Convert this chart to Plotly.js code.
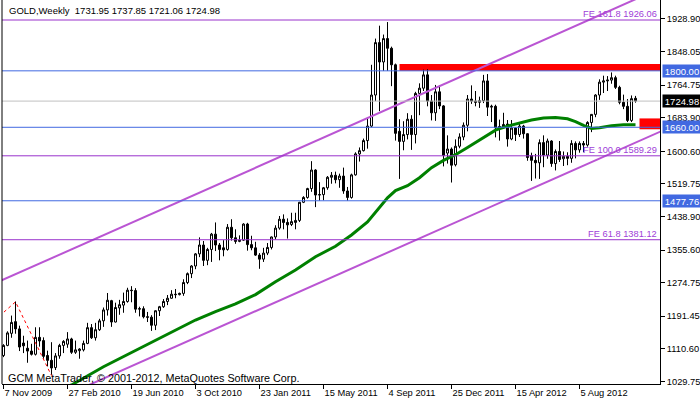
<!DOCTYPE html>
<html><head><meta charset="utf-8">
<script src="https://cdn.plot.ly/plotly-3.0.1.min.js"></script>
<style>html,body{margin:0;padding:0;background:#fff;}#chart{width:700px;height:402px;}</style>
</head><body><div id="chart"></div>
<script>
// Weekly GOLD candles, one per bar (bar 0 = week of 7 Nov 2009)
const opens = [1094,1119,1149,1178,1160,1125,1112,1105,1097,1139,
1131,1094,1082,1064,1093,1119,1122,1135,1102,1106,
1108,1124,1163,1138,1158,1180,1207,1230,1177,1212,
1219,1228,1256,1255,1209,1210,1190,1189,1169,1205,
1215,1228,1236,1246,1245,1248,1275,1297,1316,1346,
1368,1330,1357,1395,1368,1361,1357,1412,1386,1377,
1380,1420,1369,1361,1343,1333,1348,1362,1388,1410,
1432,1424,1419,1424,1429,1474,1486,1508,1554,1492,
1493,1510,1536,1541,1530,1539,1502,1486,1542,1594,
1602,1627,1663,1740,1870,1822,1880,1856,1815,1650,
1625,1642,1680,1642,1744,1757,1790,1725,1696,1748,
1713,1596,1606,1567,1613,1636,1665,1730,1725,1722,
1726,1775,1710,1712,1662,1659,1668,1631,1658,1642,
1663,1644,1590,1578,1572,1622,1591,1626,1570,1600,
1582,1588,1583,1620,1604,1620,1616,1672,1692,1740,
1772,1775,1777,1783,1759,1722,1712,1677,1731.95];
const highs = [1122,1154,1193,1228,1168,1143,1131,1123,1164,1164,
1139,1106,1127,1100,1123,1132,1152,1138,1131,1112,
1131,1175,1172,1175,1185,1213,1249,1232,1225,1232,
1250,1262,1266,1261,1215,1216,1202,1194,1206,1217,
1234,1244,1256,1259,1250,1283,1300,1318,1348,1387,
1378,1361,1398,1424,1373,1380,1420,1432,1407,1392,
1422,1423,1391,1376,1348,1361,1373,1389,1417,1440,
1444,1434,1448,1448,1475,1489,1510,1576,1556,1524,
1512,1539,1549,1550,1545,1560,1512,1545,1598,1610,
1632,1682,1815,1880,1912,1890,1921,1860,1818,1680,
1675,1695,1690,1748,1769,1803,1804,1740,1765,1764,
1715,1640,1610,1630,1645,1672,1740,1764,1750,1736,
1790,1792,1716,1716,1679,1696,1678,1678,1660,1668,
1666,1645,1597,1594,1630,1640,1632,1628,1605,1626,
1600,1598,1628,1625,1625,1626,1675,1693,1742,1779,
1788,1787,1796,1788,1763,1741,1730,1739,1737.85];
const lows = [1090,1117,1138,1148,1105,1100,1076,1094,1094,1116,
1086,1067,1046,1058,1086,1100,1113,1098,1098,1086,
1104,1122,1135,1131,1155,1165,1193,1165,1176,1195,
1200,1225,1226,1200,1191,1186,1177,1155,1157,1192,
1212,1219,1235,1236,1243,1242,1271,1286,1308,1338,
1316,1318,1326,1353,1330,1340,1354,1379,1371,1375,
1378,1354,1355,1341,1309,1326,1343,1357,1382,1406,
1407,1384,1415,1407,1425,1472,1483,1500,1462,1478,
1479,1505,1520,1521,1510,1495,1478,1483,1540,1575,
1600,1607,1660,1725,1700,1800,1800,1762,1627,1532,
1603,1630,1604,1620,1690,1750,1712,1677,1676,1705,
1563,1570,1523,1563,1608,1628,1650,1718,1712,1708,
1720,1688,1673,1635,1627,1657,1612,1628,1626,1636,
1632,1577,1527,1533,1532,1561,1582,1562,1553,1574,
1564,1566,1572,1583,1597,1598,1612,1648,1685,1728,
1745,1750,1768,1755,1717,1705,1673,1673,1721.06];
const closes = [1119,1150,1176,1160,1115,1118,1105,1097,1139,1130,
1092,1082,1063,1093,1119,1129,1135,1102,1108,1110,
1124,1163,1138,1158,1180,1207,1231,1177,1213,1220,
1228,1256,1255,1209,1210,1190,1189,1169,1205,1215,
1228,1236,1246,1245,1248,1275,1297,1316,1346,1368,
1330,1357,1395,1368,1357,1356,1412,1386,1377,1380,
1420,1369,1361,1343,1333,1348,1362,1388,1410,1432,
1424,1418,1426,1429,1474,1486,1508,1554,1492,1493,
1510,1536,1541,1530,1539,1502,1486,1542,1594,1602,
1627,1663,1740,1870,1822,1880,1856,1815,1645,1625,
1642,1680,1642,1744,1757,1790,1725,1696,1748,1713,
1590,1606,1566,1613,1636,1665,1730,1725,1722,1726,
1775,1710,1712,1659,1658,1667,1631,1658,1642,1663,
1644,1585,1578,1572,1622,1591,1626,1570,1600,1580,
1588,1583,1620,1604,1620,1616,1672,1692,1740,1772,
1775,1777,1783,1759,1722,1712,1677,1731,1724.98];

// Moving average (at selected bars)
const maBars = [12,17,25,34,41,48,53,58,63,68,73,78,83,87,91,94,96,98,101,104,107,110,113,116,119,123,126,129,132,135,138,141,143,145,147,149,152,155,158];
const maVals = [1000,1021,1066,1112,1148,1182,1203,1222,1245,1277,1306,1339,1365,1393,1425,1460,1485,1503,1515,1535,1560,1578,1592,1610,1628,1653,1663,1671,1678,1683,1684,1681,1674,1665,1657,1659,1664,1666,1666];

// Price channel (two parallel trend lines)
const channelBars = [-1, 165];
const channelUpper = [1278.0, 2008.4];
const channelLower = [922.4, 1652.8];

// ZigZag (red dotted)
const zigBars = [-10, 3, 12];
const zigVals = [1113, 1227, 1044];

// Levels
const feLevels = [1926.06, 1589.29, 1381.12];
const feRatios = ['161.8', '100.0', '61.8'];
const blueLevels = [1800.00, 1660.00, 1477.76];
const zoneTop = [1800, 1817];     // red zone (from bar 99)
const zoneBottom = [1655, 1682];  // red zone (from bar 159)
const zoneStartBars = [99, 159];

// Axis labels
const xTickBars = [0,16,32,48,64,80,96,112,128,144];
const xTickLabels = ['7 Nov 2009','27 Feb 2010','19 Jun 2010','3 Oct 2010','23 Jan 2011','15 May 2011','4 Sep 2011','25 Dec 2011','15 Apr 2012','5 Aug 2012'];
const yTickVals = [1029.75,1110.60,1191.45,1274.75,1355.60,1438.90,1519.75,1600.60,1683.90,1764.75,1848.05,1928.90];

const bars = opens.map((_, i) => i);
const last = opens.length - 1;
const BLUE = '#4169E1', FE = '#9932CC', FETXT = '#A040D8', CHAN = '#BA55D3';
const XMIN = -0.375, XMAX = 164.125;

const traces = [
  {type:'candlestick', x:bars, open:opens, high:highs, low:lows, close:closes,
   increasing:{line:{color:'#000', width:1}, fillcolor:'#fff'},
   decreasing:{line:{color:'#000', width:1}, fillcolor:'#000'},
   whiskerwidth:0, hoverinfo:'skip'},
  {type:'scatter', mode:'lines', x:maBars, y:maVals, line:{color:'#008000', width:3}, hoverinfo:'skip'},
  {type:'scatter', mode:'lines', x:channelBars, y:channelUpper, line:{color:CHAN, width:2}, hoverinfo:'skip'},
  {type:'scatter', mode:'lines', x:channelBars, y:channelLower, line:{color:CHAN, width:2}, hoverinfo:'skip'},
  {type:'scatter', mode:'lines', x:zigBars, y:zigVals, line:{color:'#FF0000', width:1, dash:'dot'}, hoverinfo:'skip'}
];

const shapes = [];
shapes.push({type:'rect', xref:'x', yref:'y', x0:zoneStartBars[0], x1:XMAX, y0:zoneTop[0], y1:zoneTop[1], fillcolor:'#FF0000', line:{width:0}, layer:'below'});
shapes.push({type:'rect', xref:'x', yref:'y', x0:zoneStartBars[1], x1:XMAX, y0:zoneBottom[0], y1:zoneBottom[1], fillcolor:'#FF0000', line:{width:0}, layer:'below'});
const hl = (v, c) => ({type:'line', xref:'paper', yref:'y', x0:0, x1:1, y0:v, y1:v, line:{color:c, width:1}});
feLevels.forEach(v => shapes.push(hl(v, FE)));
blueLevels.forEach(v => shapes.push(hl(v, BLUE)));
shapes.push(hl(closes[last], '#C0C0C0'));
shapes.push({type:'line', xref:'paper', yref:'paper', x0:0, x1:0, y0:0, y1:1, line:{color:'#000', width:1}});

const annotations = [];
const f2 = v => v.toFixed(2);
annotations.push({xref:'paper', yref:'paper', x:0.0076, y:0.973, xanchor:'left', yanchor:'middle', showarrow:false,
  text:'GOLD,Weekly\u00a0 ' + [opens[last], highs[last], lows[last], closes[last]].map(f2).join(' '),
  font:{size:9.5, color:'#000'}});
annotations.push({xref:'paper', yref:'paper', x:0.006, y:0.016, xanchor:'left', yanchor:'middle', showarrow:false,
  text:'GCM MetaTrader, \u00a9 2001-2012, MetaQuotes Software Corp.', font:{size:10.8, color:'#000'}});
feLevels.forEach((v, i) => annotations.push({xref:'paper', yref:'y', x:1, xshift:-2, y:v, xanchor:'right', yanchor:'bottom', showarrow:false,
  text:'FE ' + feRatios[i] + ' ' + f2(v), font:{size:9.3, color:FETXT}, borderpad:0}));
const box = (v, bg) => ({xref:'paper', yref:'y', x:1, xshift:2, y:v, xanchor:'left', yanchor:'middle', showarrow:false,
  text:f2(v), font:{size:9.5, color:'#fff'}, bgcolor:bg, width:36, height:10, borderpad:1, align:'center'});
blueLevels.forEach(v => annotations.push(box(v, BLUE)));
annotations.push(box(closes[last], '#000'));

const layout = {
  width:700, height:402,
  margin:{l:2, r:40, t:0, b:18, pad:0},
  paper_bgcolor:'#fff', plot_bgcolor:'#fff', showlegend:false,
  font:{family:'Liberation Sans, Arial, sans-serif', size:9.3, color:'#000'},
  boxgap:0.5, boxgroupgap:0,
  xaxis:{range:[XMIN, XMAX], tickvals:xTickBars, ticktext:xTickLabels, ticks:'outside', ticklen:4, tickcolor:'#000',
    showline:true, linecolor:'#000', linewidth:1, showgrid:false, zeroline:false, rangeslider:{visible:false},
    ticklabelposition:'outside right', tickfont:{size:9.3}, fixedrange:true},
  yaxis:{side:'right', range:[1023.3, 1975.7], tickvals:yTickVals, ticktext:yTickVals.map(f2), ticks:'outside', ticklen:4,
    tickcolor:'#000', showline:true, linecolor:'#000', linewidth:1, showgrid:false, zeroline:false, tickfont:{size:9.3}, fixedrange:true},
  shapes, annotations
};
Plotly.newPlot('chart', traces, layout, {staticPlot:true, displayModeBar:false});
</script></body></html>
